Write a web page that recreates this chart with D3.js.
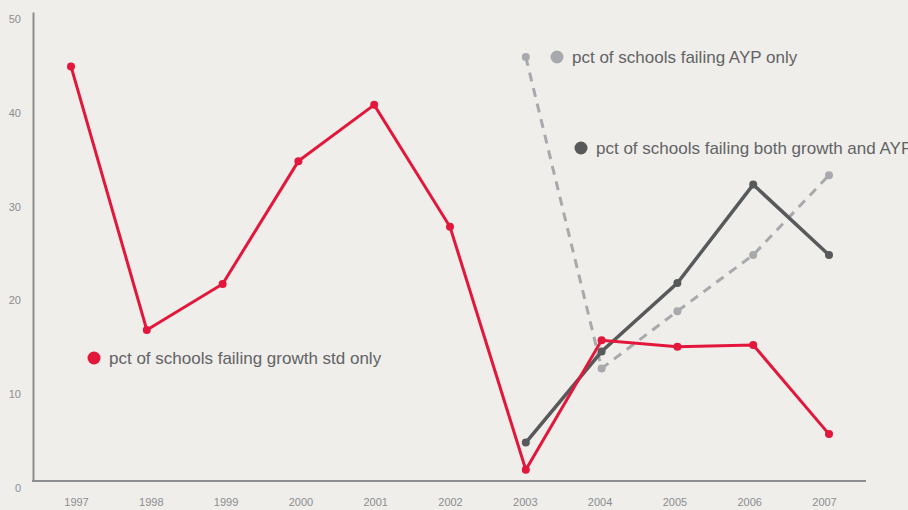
<!DOCTYPE html>
<html>
<head>
<meta charset="utf-8">
<script src="https://cdn.jsdelivr.net/npm/d3@7"></script>
<style>
  body { margin: 0; background: #efeeea; }
  svg { display: block; font-family: "Liberation Sans", Arial, sans-serif; }
</style>
</head>
<body>
<svg id="chart" width="908" height="510"></svg>
<script>
// Data
var years = [1997, 1998, 1999, 2000, 2001, 2002, 2003, 2004, 2005, 2006, 2007]
var growthOnly = [44.2, 16.1, 21.0, 34.1, 40.1, 27.1, 1.2, 15.0, 14.3, 14.5, 5.0]
var bothYears = [2003, 2004, 2005, 2006, 2007]
var bothValues = [4.1, 13.8, 21.1, 31.6, 24.1]
var aypValues = [45.2, 12.0, 18.1, 24.1, 32.6]
var yTicks = [0, 10, 20, 30, 40, 50]

var svg = d3.select('#chart')

// Scales
var xScale = d3.scaleLinear().domain([1997, 2007]).range([71, 829])
var xLabelScale = d3.scaleLinear().domain([1997, 2007]).range([76, 824])
var yScale = d3.scaleLinear().domain([0, 50]).range([481, 12])

var line = d3
  .line()
  .x(d => xScale(d.year))
  .y(d => yScale(d.value))

function series(ys, vs) {
  return ys.map((y, i) => ({ year: y, value: vs[i] }))
}

// Axes
var yAxis = d3.axisLeft(yScale).tickValues(yTicks).tickSize(0).tickPadding(12)
var yg = svg.append('g').attr('transform', 'translate(33,0)').call(yAxis)
yg.select('.domain').attr('stroke', '#8c8d90').attr('stroke-width', 2)
yg.selectAll('text')
  .attr('fill', '#8c8d90')
  .attr('font-size', 11)
  .attr('dy', '0.95em')

var xAxis = d3.axisBottom(xLabelScale).tickValues(years).tickFormat(d3.format('d')).tickSize(0).tickPadding(17)
var xg = svg.append('g').attr('transform', 'translate(0,481)').call(xAxis)
xg.select('.domain').remove()
xg.selectAll('text').attr('fill', '#8c8d90').attr('font-size', 11)

svg.append('line')
  .attr('x1', 32)
  .attr('x2', 866)
  .attr('y1', yScale(0))
  .attr('y2', yScale(0))
  .attr('stroke', '#8c8d90')
  .attr('stroke-width', 2)

// Series
var red = '#e3173b'
var dark = '#58595b'
var light = '#a8a9ac'

var aypData = series(bothYears, aypValues)
svg.append('path')
  .datum(aypData)
  .attr('d', line)
  .attr('fill', 'none')
  .attr('stroke', light)
  .attr('stroke-width', 3)
  .attr('stroke-dasharray', '9,7')

svg.selectAll('.ayp-dot')
  .data(aypData)
  .enter()
  .append('circle')
  .attr('cx', d => xScale(d.year))
  .attr('cy', d => yScale(d.value))
  .attr('r', 4)
  .attr('fill', light)

var bothData = series(bothYears, bothValues)
svg.append('path')
  .datum(bothData)
  .attr('d', line)
  .attr('fill', 'none')
  .attr('stroke', dark)
  .attr('stroke-width', 3.5)

svg.selectAll('.both-dot')
  .data(bothData)
  .enter()
  .append('circle')
  .attr('cx', d => xScale(d.year))
  .attr('cy', d => yScale(d.value))
  .attr('r', 4)
  .attr('fill', dark)

var growthData = series(years, growthOnly)
svg.append('path')
  .datum(growthData)
  .attr('d', line)
  .attr('fill', 'none')
  .attr('stroke', red)
  .attr('stroke-width', 3)

svg.selectAll('.growth-dot')
  .data(growthData)
  .enter()
  .append('circle')
  .attr('cx', d => xScale(d.year))
  .attr('cy', d => yScale(d.value))
  .attr('r', 4)
  .attr('fill', red)

// Labels
var labels = [
  { text: 'pct of schools failing AYP only', color: light, x: 557, y: 57 },
  { text: 'pct of schools failing both growth and AYP', color: dark, x: 581, y: 148 },
  { text: 'pct of schools failing growth std only', color: red, x: 94, y: 358 }
]

labels.forEach(l => {
  svg.append('circle').attr('cx', l.x).attr('cy', l.y).attr('r', 6.5).attr('fill', l.color)
  svg.append('text')
    .text(l.text)
    .attr('x', l.x + 15)
    .attr('y', l.y)
    .attr('dy', '0.35em')
    .attr('font-size', 17)
    .attr('fill', '#626366')
})
</script>
</body>
</html>
